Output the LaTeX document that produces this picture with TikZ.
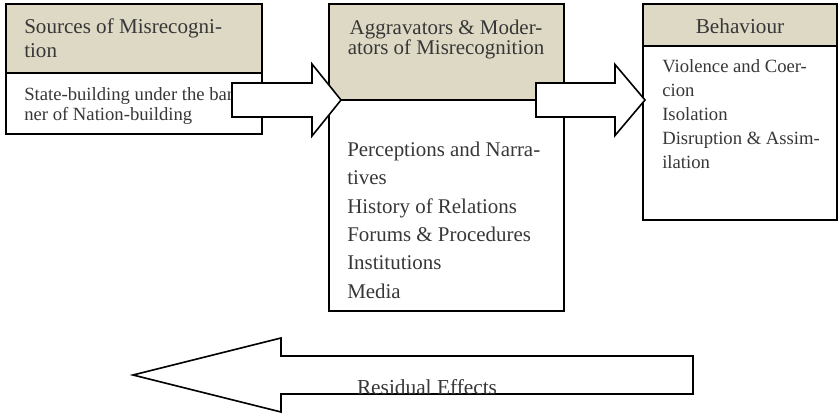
\documentclass[tikz,border=0pt]{standalone}
\usepackage{fontspec}
\setmainfont{Liberation Serif}
\usetikzlibrary{calc,fit}
\definecolor{hdrfill}{RGB}{221,217,196}
\definecolor{txtgray}{RGB}{55,55,55}
% block arrow: tail, tip, half shaft width, head back offset, half head width
\newcommand{\blockarrow}[5]{%
  \draw[blockarr] ($(#1)+(0,-#3)$) -- ($(#2)+(#4,-#3)$) -- ($(#2)+(#4,-#5)$)
    -- (#2) -- ($(#2)+(#4,#5)$) -- ($(#2)+(#4,#3)$) -- ($(#1)+(0,#3)$) -- cycle;}

\begin{document}
\begin{tikzpicture}[x=0.75pt, y=-0.75pt,
  frame/.style={draw, line width=1.2pt, inner sep=0pt},
  head/.style={frame, fill=hdrfill},
  txt/.style={inner sep=0pt, anchor=base west, align=left, text=txtgray},
  blockarr/.style={draw, fill=white, line width=1.2pt, line join=miter}]
\useasboundingbox (0,0) rectangle (838,414);
% boxes
\node[frame, fit={(6,4) (262,134)}] (src) {};
\node[head, fit={(6,4) (262,73)}] (srchead) {};
\node[frame, fit={(329,4) (564,311)}] (mod) {};
\node[head, fit={(329,4) (564,100)}] (modhead) {};
\node[frame, fit={(643,4) (837,220)}] (beh) {};
\node[head, fit={(643,4) (837,46)}] (behhead) {};
% texts (placed at the baseline of their last line)
\node[txt, font=\fontsize{15.8}{17.5}\selectfont] (srctitle) at (24,57)
  {Sources of Misrecogni-\\tion};
\node[txt, font=\fontsize{14}{15}\selectfont] (srcbody) at (24,120)
  {State-building under the ban-\\ner of Nation-building};
\node[txt, anchor=base, align=center, font=\fontsize{15.7}{15}\selectfont]
  (modtitle) at (446,54) {Aggravators \& Moder-\\ators of Misrecognition};
\node[txt, font=\fontsize{15.7}{21.2}\selectfont] (modbody) at (347,298)
  {Perceptions and Narra-\\tives\\History of Relations\\Forums \& Procedures\\
   Institutions\\Media};
\node[txt, anchor=base, font=\fontsize{15.9}{18}\selectfont] (behtitle)
  at (740,33) {Behaviour};
\node[txt, font=\fontsize{14}{18}\selectfont] (behbody) at (662,168)
  {Violence and Coer-\\cion\\Isolation\\Disruption \& Assim-\\ilation};
% arrows
\coordinate (a1tail) at (232,100);
\coordinate (a1tip) at (341,100);
\coordinate (a2tail) at (536,100);
\coordinate (a2tip) at (645,100);
\coordinate (a3tail) at (693,375);
\coordinate (a3tip) at (133,375);
\blockarrow{a1tail}{a1tip}{17}{-29}{36}
\blockarrow{a2tail}{a2tip}{17}{-30}{35.5}
\blockarrow{a3tail}{a3tip}{19}{148}{37}
\node[txt, anchor=base, font=\fontsize{16}{19}\selectfont] (resid)
  at (427,394) {Residual Effects};
\end{tikzpicture}
\end{document}
